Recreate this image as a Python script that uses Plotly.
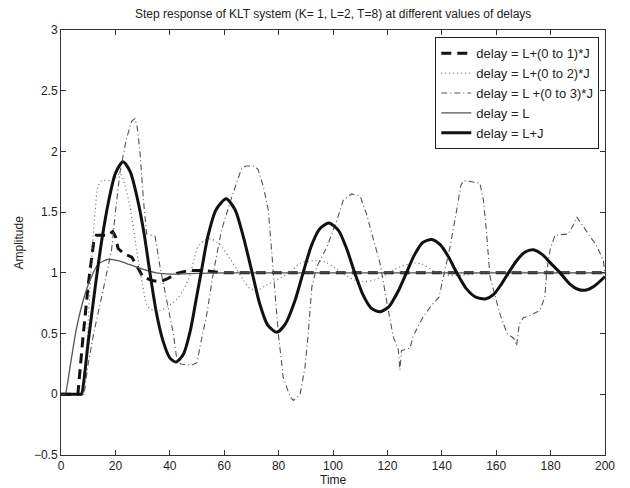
import plotly.graph_objects as go

# ---- data ----
t_lj = [0, 5, 7, 7.5, 10, 12.5, 15, 17.5, 20, 22.8, 25.5, 28, 30.5, 32.7, 35, 37.5, 40, 42.3, 45, 47.5, 50, 51.5,
        54, 57, 60.7, 64, 67, 70.3, 73, 76, 79.3, 82.5, 86, 89, 92, 95, 98.5, 102, 105, 108, 111, 114,
        117.3, 120.5, 124, 127, 130, 133, 136.3, 139.5, 142.5, 145.5, 149, 152.5, 156, 159, 162, 164.5,
        167.5, 170.5, 173.6, 177, 180, 183.5, 187, 190, 192.6, 196, 200]
y_lj = [0, 0, 0, 0, 0.43, 0.87, 1.27, 1.59, 1.82, 1.915, 1.83, 1.62, 1.33, 1.0, 0.68, 0.44, 0.3, 0.265, 0.33, 0.52, 0.82, 1.0,
        1.3, 1.52, 1.61, 1.52, 1.3, 1.0, 0.75, 0.57, 0.51, 0.58, 0.77, 1.0, 1.22, 1.36, 1.41, 1.35, 1.2, 1.0, 0.82, 0.71,
        0.68, 0.72, 0.85, 1.0, 1.15, 1.25, 1.275, 1.23, 1.13, 1.0, 0.87, 0.8, 0.785, 0.82, 0.91, 1.0,
        1.1, 1.17, 1.19, 1.15, 1.08, 1.0, 0.91, 0.865, 0.857, 0.89, 0.97]

t_l = [0, 1.2, 1.6, 3.5, 5.5, 8, 10.5, 13.6, 17, 21, 25, 30, 35, 40, 50, 60, 200]
y_l = [0, 0, 0, 0.25, 0.52, 0.76, 0.93, 1.07, 1.11, 1.1, 1.07, 1.03, 1.0, 0.99, 0.995, 1.0, 1.0]

t_d1 = [0, 6.2, 8, 10, 12, 13, 17.3, 19, 20, 21, 23, 26, 28.3, 30, 33, 36.4, 39, 42.5, 47, 52, 60, 200]
y_d1 = [0, 0, 0.45, 0.9, 1.25, 1.31, 1.31, 1.34, 1.3, 1.2, 1.16, 1.13, 1.04, 0.97, 0.94, 0.926, 0.95, 0.995, 1.02, 1.02, 1.0, 1.0]

t_d2 = [0, 7, 8, 9.5, 11, 12.5, 13.6, 15, 18.5, 20, 21.7, 23.5, 25.4, 27.8, 30, 31.5, 33, 36.5, 39, 42.5, 45,
        47.4, 49, 50.5, 53, 55, 57.5, 59.6, 62, 64.6, 67, 69.5, 72.5, 75.6, 80, 84, 88, 93.5, 97, 100.7, 104,
        108, 112, 115, 119, 124.6, 130, 133, 136.8, 142, 147, 155, 165, 175, 200]
y_d2 = [0, 0, 0, 0.4, 1.0, 1.5, 1.71, 1.76, 1.76, 1.78, 1.82, 1.72, 1.54, 1.19, 0.9, 0.74, 0.7, 0.69, 0.72, 0.78, 0.86,
        0.98, 1.12, 1.22, 1.27, 1.28, 1.25, 1.2, 1.12, 1.03, 0.94, 0.87, 0.86, 0.9, 0.95, 1.0, 1.08, 1.1, 1.09, 1.04, 0.99,
        0.94, 0.93, 0.94, 0.98, 1.05, 1.08, 1.07, 1.02, 0.98, 0.98, 1.0, 1.01, 1.0, 1.0]

t_d3 = [0, 8.5, 10, 12, 15.5, 18.6, 20, 21.7, 24, 26, 27.2, 28, 29, 30.3, 31.5, 34.6, 36.4, 38.8, 41.3, 42.5,
        44, 48, 50, 51, 53.6, 56, 59, 62.7, 66.4, 68, 71, 72.5, 74.4, 76.2, 78, 79.9, 81.7, 84.2, 85.4, 87.9,
        89.7, 90.9, 92.2, 94, 97.7, 101.4, 103.8, 106.9, 110, 112.4, 114.8, 117.3, 119.7, 122.2, 124, 124.6, 125.2,
        128.3, 129.5, 133.2, 136.5, 139, 140.6, 143, 145.5, 147, 148, 154, 155.3, 156.5, 157.7, 159.6, 161.4, 164,
        166.5, 167.5, 168.5, 170, 172.5, 176, 177.9, 178.6, 179.8, 181.6, 186.5, 188.5, 189.6, 190.8, 192, 194.5,
        197, 199.4, 200]
y_d3 = [0, 0, 0.25, 0.5, 0.86, 1.19, 1.5, 1.83, 2.1, 2.25, 2.27, 2.2, 2.01, 1.6, 1.32, 1.3, 1.05, 0.77, 0.5, 0.3,
        0.25, 0.24, 0.26, 0.38, 0.66, 1.0, 1.35, 1.62, 1.86, 1.88, 1.88, 1.85, 1.71, 1.52, 1.05, 0.5, 0.14, -0.02, -0.05, 0.0,
        0.22, 0.5, 0.88, 1.05, 1.21, 1.43, 1.6, 1.65, 1.63, 1.48, 1.28, 1.08, 0.77, 0.47, 0.37, 0.2, 0.36,
        0.38, 0.48, 0.64, 0.74, 0.8, 0.97, 1.21, 1.52, 1.72, 1.76, 1.74, 1.6, 1.32, 0.97, 0.8, 0.66, 0.5,
        0.46, 0.4, 0.58, 0.63, 0.65, 0.69, 0.8, 1.02, 1.19, 1.31, 1.32, 1.4, 1.46, 1.42, 1.38, 1.3,
        1.22, 1.1, 1.0]

names = ["delay = L+(0 to 1)*J", "delay = L+(0 to 2)*J", "delay = L +(0 to 3)*J", "delay = L", "delay = L+J"]
x_ticks = [0, 20, 40, 60, 80, 100, 120, 140, 160, 180, 200]
y_ticks = [-0.5, 0, 0.5, 1, 1.5, 2, 2.5, 3]
y_tick_text = ["−0.5", "0", "0.5", "1", "1.5", "2", "2.5", "3"]

FONT = "Liberation Sans, Arial, sans-serif"

fig = go.Figure()
fig.add_trace(go.Scatter(x=t_d1, y=y_d1, mode="lines", name=names[0],
                         line=dict(color="#111111", width=3, dash="10px,6px")))
fig.add_trace(go.Scatter(x=t_d2, y=y_d2, mode="lines", name=names[1],
                         line=dict(color="#666666", width=1.2, dash="1px,3px", shape="spline", smoothing=0.7)))
fig.add_trace(go.Scatter(x=t_d3, y=y_d3, mode="lines", name=names[2],
                         line=dict(color="#555555", width=1.1, dash="6px,3px,1px,3px")))
fig.add_trace(go.Scatter(x=t_l, y=y_l, mode="lines", name=names[3],
                         line=dict(color="#555555", width=1.3, shape="spline", smoothing=0.5)))
fig.add_trace(go.Scatter(x=t_lj, y=y_lj, mode="lines", name=names[4],
                         line=dict(color="#111111", width=3, shape="spline", smoothing=0.7)))

axis_common = dict(showgrid=False, zeroline=False, showline=True, linecolor="#333333", linewidth=1,
                   mirror="ticks", ticks="inside", ticklen=5, tickcolor="#333333",
                   tickfont=dict(family=FONT, size=12, color="#222222"))

fig.update_xaxes(range=[0, 200], tickvals=x_ticks, ticktext=[str(v) for v in x_ticks], **axis_common)
fig.update_yaxes(range=[-0.5, 3], tickvals=y_ticks, ticktext=y_tick_text, **axis_common)

fig.update_layout(
    width=630, height=488,
    margin=dict(l=61, r=25, t=30, b=33),
    paper_bgcolor="white", plot_bgcolor="white",
    showlegend=True,
    legend=dict(x=0.9895, y=0.983, xanchor="right", yanchor="top",
                bgcolor="white", bordercolor="#222222", borderwidth=1,
                font=dict(family=FONT, size=13, color="#222222"),
                tracegroupgap=0),
    annotations=[
        dict(text="Step response of KLT system (K= 1, L=2, T=8) at different values of delays",
             xref="paper", yref="paper", x=0.5, y=1, yshift=7, xanchor="center", yanchor="bottom",
             showarrow=False, font=dict(family=FONT, size=12, color="#222222")),
        dict(text="Time", xref="paper", yref="paper", x=0.5, y=0, yshift=-16, xanchor="center", yanchor="top",
             showarrow=False, font=dict(family=FONT, size=12, color="#222222")),
        dict(text="Amplitude", xref="paper", yref="paper", x=0, y=0.5, xshift=-43, xanchor="center",
             yanchor="middle", textangle=-90, showarrow=False,
             font=dict(family=FONT, size=12, color="#222222")),
    ],
)

# remove the browser's default 8px page margin so the figure fills the window exactly
fig.write_html("out.html", config={"displayModeBar": False},
               post_script="document.body.style.margin='0';")
